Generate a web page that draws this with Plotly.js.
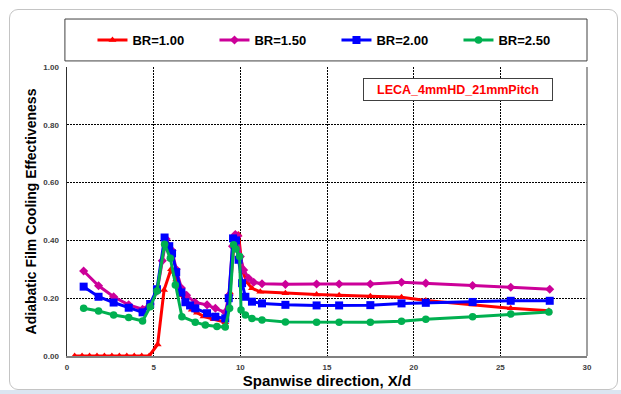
<!DOCTYPE html>
<html>
<head>
<meta charset="utf-8">
<script src="https://cdn.plot.ly/plotly-3.0.1.min.js"></script>
<style>
  html, body { margin: 0; padding: 0; background: #ffffff; }
  #wrap { position: relative; width: 621px; height: 394px; overflow: hidden; }
  #chart { position: absolute; left: 0; top: 0; width: 621px; height: 394px; }
  #frame { position: absolute; left: 9px; top: 9px; width: 607px; height: 379px;
           border: 1px solid #c4c4c4; border-radius: 9px; pointer-events: none; }
  #strip { position: absolute; left: 0; top: 390px; width: 621px; height: 4px; background: #dbe5f1; }
</style>
</head>
<body>
<div id="wrap">
  <div id="chart"></div>
  <div id="frame"></div>
  <div id="strip"></div>
</div>
<script>
// Spanwise distribution of adiabatic film cooling effectiveness, four blowing ratios
const br100X = [0.44, 0.87, 1.30, 1.73, 2.16, 2.59, 3.02, 3.45, 3.88, 4.31, 4.74, 5.23, 5.60, 6.00, 6.30, 6.60, 6.90, 7.20, 7.50, 7.88, 8.46, 9.13, 9.40, 9.65, 9.90, 10.12, 10.38, 10.67, 11.15, 12.60, 14.40, 15.70, 17.50, 19.30, 20.70, 23.40, 25.60, 27.80];
const br100Y = [0, 0, 0, 0, 0, 0, 0, 0, 0, 0, 0, 0.040, 0.228, 0.300, 0.265, 0.210, 0.180, 0.160, 0.150, 0.137, 0.127, 0.117, 0.220, 0.400, 0.420, 0.295, 0.255, 0.234, 0.222, 0.217, 0.213, 0.210, 0.207, 0.203, 0.192, 0.178, 0.165, 0.157];

const br150X = [0.96, 1.82, 2.69, 3.56, 4.36, 4.80, 5.20, 5.50, 5.72, 6.06, 6.30, 6.60, 6.90, 7.40, 8.08, 8.56, 9.13, 9.35, 9.55, 9.71, 9.85, 10.00, 10.19, 10.48, 10.77, 11.25, 12.60, 14.40, 15.70, 17.50, 19.30, 20.70, 23.40, 25.60, 27.85];
const br150Y = [0.294, 0.243, 0.205, 0.177, 0.162, 0.180, 0.225, 0.330, 0.405, 0.365, 0.300, 0.235, 0.210, 0.185, 0.177, 0.165, 0.151, 0.210, 0.380, 0.420, 0.415, 0.344, 0.298, 0.269, 0.255, 0.250, 0.248, 0.249, 0.249, 0.249, 0.255, 0.252, 0.244, 0.238, 0.231];

const br200X = [0.96, 1.82, 2.69, 3.56, 4.36, 4.80, 5.19, 5.63, 5.90, 6.06, 6.30, 6.60, 6.83, 7.10, 7.40, 8.08, 8.56, 9.13, 9.33, 9.58, 9.75, 9.90, 10.10, 10.29, 10.67, 11.25, 12.60, 14.40, 15.70, 17.50, 19.30, 20.70, 23.40, 25.60, 27.85];
const br200Y = [0.240, 0.205, 0.185, 0.167, 0.151, 0.180, 0.231, 0.410, 0.380, 0.355, 0.290, 0.220, 0.186, 0.175, 0.165, 0.148, 0.136, 0.130, 0.200, 0.407, 0.400, 0.333, 0.252, 0.205, 0.188, 0.182, 0.177, 0.175, 0.175, 0.176, 0.182, 0.184, 0.187, 0.191, 0.191];

const br250X = [0.96, 1.82, 2.69, 3.56, 4.36, 4.80, 5.19, 5.63, 5.96, 6.25, 6.63, 7.40, 7.98, 8.65, 9.13, 9.38, 9.61, 9.75, 9.96, 10.04, 10.29, 10.67, 11.25, 12.60, 14.40, 15.70, 17.50, 19.30, 20.70, 23.40, 25.60, 27.80];
const br250Y = [0.165, 0.156, 0.142, 0.133, 0.121, 0.170, 0.225, 0.387, 0.338, 0.246, 0.136, 0.117, 0.107, 0.102, 0.100, 0.165, 0.385, 0.370, 0.344, 0.159, 0.142, 0.130, 0.125, 0.118, 0.117, 0.117, 0.117, 0.120, 0.127, 0.136, 0.145, 0.152];

const seriesNames = ['BR=1.00', 'BR=1.50', 'BR=2.00', 'BR=2.50'];
const xTicks = [0, 5, 10, 15, 20, 25, 30];
const yTicks = [0, 0.2, 0.4, 0.6, 0.8, 1.0];
const configLabel = 'LECA_4mmHD_21mmPitch';

const boldFont = 'Liberation Sans, Arial, sans-serif';

function series(x, y, name, color, symbol, size) {
  return {
    type: 'scatter', mode: 'lines+markers', x: x, y: y, name: name,
    line: { color: color, width: 3 },
    marker: { color: color, symbol: symbol, size: size, line: { width: 0 } },
    cliponaxis: false
  };
}

const traces = [
  series(br100X, br100Y, seriesNames[0], '#ff0000', 'triangle-up', 7),
  series(br150X, br150Y, seriesNames[1], '#cc0099', 'diamond', 7),
  series(br200X, br200Y, seriesNames[2], '#0000ff', 'square', 8),
  series(br250X, br250Y, seriesNames[3], '#00b050', 'circle', 7.5)
];

const layout = {
  width: 621, height: 394,
  margin: { l: 67, r: 34, t: 67, b: 38 },
  paper_bgcolor: '#ffffff', plot_bgcolor: '#ffffff',
  font: { family: boldFont, color: '#000000' },
  showlegend: true,
  legend: {
    orientation: 'h', x: 0.049, xanchor: 'left', y: 1.0934, yanchor: 'middle',
    bgcolor: 'rgba(0,0,0,0)', borderwidth: 0,
    font: { family: boldFont, size: 13, color: '#000000', weight: 'bold' },
    entrywidth: 77, entrywidthmode: 'pixels', traceorder: 'normal'
  },
  xaxis: {
    range: [0, 30], tickvals: xTicks, ticktext: xTicks.map(String),
    showgrid: true, gridcolor: '#000000', gridwidth: 1, griddash: '2px,1px',
    zeroline: false, showline: true, linecolor: '#808080', linewidth: 1.5,
    ticks: '', ticklabelstandoff: 3,
    tickfont: { family: boldFont, size: 8, color: '#404040', weight: 'bold' },
    title: { text: 'Spanwise direction, X/d', standoff: 4,
             font: { family: boldFont, size: 15, color: '#000000', weight: 'bold' } }
  },
  yaxis: {
    range: [0, 1], tickvals: yTicks, tickformat: '.2f',
    showgrid: true, gridcolor: '#000000', gridwidth: 1, griddash: '2px,1px',
    zeroline: false, showline: true, linecolor: '#303030', linewidth: 1.5,
    ticks: '', ticklabelstandoff: 5,
    tickfont: { family: boldFont, size: 8, color: '#404040', weight: 'bold' },
    title: { text: 'Adiabatic Film Cooling Effectiveness', standoff: 3,
             font: { family: boldFont, size: 14, color: '#000000', weight: 'bold' } }
  },
  shapes: [
    // right edge of the plot area
    { type: 'line', xref: 'paper', yref: 'paper', x0: 1, x1: 1, y0: 0, y1: 1,
      line: { color: '#808080', width: 1.5 } },
    // legend frame
    { type: 'rect', xref: 'paper', yref: 'paper', x0: -0.004, x1: 1.0, y0: 1.021, y1: 1.166,
      line: { color: '#404040', width: 1 }, fillcolor: 'rgba(0,0,0,0)' }
  ],
  annotations: [
    { text: configLabel, xref: 'paper', yref: 'paper', x: 0.752, y: 0.922,
      xanchor: 'center', yanchor: 'middle', showarrow: false,
      width: 186, height: 19, bgcolor: '#ffffff', bordercolor: '#404040', borderwidth: 1,
      font: { family: boldFont, size: 12.5, color: '#ff0000', weight: 'bold' } }
  ]
};

Plotly.newPlot('chart', traces, layout, { displayModeBar: false, staticPlot: true });
</script>
</body>
</html>
